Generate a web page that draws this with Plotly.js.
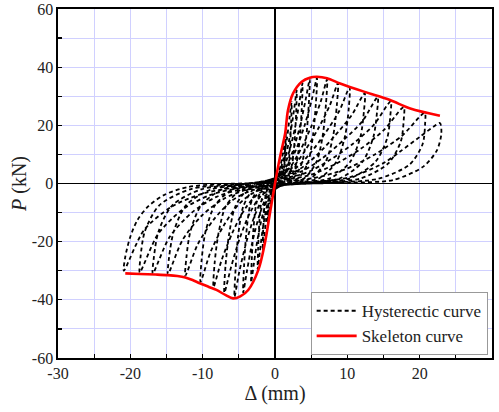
<!DOCTYPE html>
<html>
<head>
<meta charset="utf-8">
<script src="https://cdn.plot.ly/plotly-3.0.1.min.js"></script>
<style>html,body{margin:0;padding:0;background:#fff;}#chart{width:499px;height:412px;}</style>
</head>
<body>
<div id="chart"></div>
<script>
// Skeleton curve (mm, kN)
const skelX = [-20.7,-18.7,-16.5,-14.8,-13.5,-12.4,-11.4,-10.4,-9.2,-8.1,-6.8,-5.8,-4.8,-3.7,-2.3,-1.4,-0.7,0,0.7,1.4,1.8,2.5,3.7,4.8,5.8,7.2,9,12.4,15.9,18.7,22.8];
const skelY = [-30.9,-31.1,-31.3,-31.5,-31.8,-32.3,-33.2,-34.3,-35.5,-36.6,-38.4,-39.5,-38.8,-36.6,-29.7,-20.5,-10.2,0,9.2,17.2,25.3,31,35,36.4,36.7,36.2,34.4,31.5,28.7,25.8,23.3];

// Hysteretic loops, one per cycle
const loop1X = [0,0.4,0.75,1.1,1.35,1.5,1.45,1.35,1.15,0.8,0.45,-0.25,-0.5,-0.72,-0.88,-1.0,-0.97,-0.9,-0.78,-0.55,-0.3];
const loop1Y = [0,2.5,6,10.5,14.5,18,13.5,8,3.8,1.2,0.3,-1.8,-4.5,-7.8,-11.2,-14,-10.5,-6.2,-2.8,-0.9,-0.2];
const loop2X = [0.55,1.15,1.65,2.0,2.3,2.23,2.07,1.8,1.27,0.7,-0.43,-0.85,-1.22,-1.5,-1.7,-1.65,-1.53,-1.33,-0.94,-0.5];
const loop2Y = [3.4,8.4,15.4,22.4,28,21,12.6,5.6,1.7,0.3,-2.8,-6.9,-12.6,-18.4,-23,-17.2,-10.3,-4.6,-1.4,-0.25];
const loop3X = [0.75,1.5,2.15,2.65,3.0,2.92,2.7,2.35,1.65,0.9,-0.6,-1.2,-1.73,-2.1,-2.4,-2.33,-2.16,-1.87,-1.32,-0.72];
const loop3Y = [3.8,9.6,17.6,25.6,32,24,14.4,6.4,1.9,0.3,-3.5,-8.8,-16.2,-23.6,-29.5,-22.1,-13.3,-5.9,-1.8,-0.3];
const loop4X = [0.95,1.9,2.75,3.35,3.8,3.7,3.42,2.96,2.1,1.15,-0.83,-1.65,-2.38,-2.9,-3.3,-3.2,-2.97,-2.57,-1.82,-1.0];
const loop4Y = [4.1,10.4,19,27.6,34.5,25.9,15.5,6.9,2.1,0.35,-4.1,-10.2,-18.7,-27.2,-34,-25.5,-15.3,-6.8,-2,-0.35];
const loop5X = [1.2,2.4,3.45,4.22,4.8,4.66,4.32,3.74,2.64,1.44,-1.1,-2.2,-3.17,-3.87,-4.4,-4.27,-3.96,-3.43,-2.42,-1.32];
const loop5Y = [4.3,10.7,19.7,28.6,35.8,26.9,16.1,7.2,2.1,0.4,-4.5,-11.3,-20.6,-30,-37.5,-28.1,-16.9,-7.5,-2.2,-0.4];
const loop6X = [1.45,2.8,4.1,5.1,5.8,5.65,5.25,4.6,3.3,1.8,-1.4,-2.8,-4.0,-4.95,-5.6,-5.45,-5.1,-4.4,-3.1,-1.7];
const loop6Y = [4.5,11,20,29,36.3,27.5,16.5,7.5,2,0.4,-4.3,-11,-20.5,-30.5,-39,-29.5,-18,-8,-2.3,-0.4];
const loop7X = [1.8,3.5,5.0,6.3,7.2,7.05,6.6,5.75,4.1,2.2,-1.75,-3.4,-4.9,-6.1,-7.0,-6.85,-6.35,-5.5,-3.9,-2.1];
const loop7Y = [4.8,11.5,19.5,28,35.8,27.5,16.5,7.5,1.9,0.3,-3.8,-9.8,-19,-29,-37.6,-28.5,-17.5,-8,-2.3,-0.4];
const loop8X = [2.2,4.2,6.0,7.6,8.7,8.55,8.05,7.0,5.0,2.7,-2.1,-4.1,-5.9,-7.4,-8.5,-8.35,-7.8,-6.8,-4.8,-2.6];
const loop8Y = [5.0,11.5,19,27,34.5,27,16.5,7.5,1.9,0.3,-3.2,-8.5,-17,-26.5,-35.6,-27.5,-17,-7.8,-2.2,-0.4];
const loop9X = [2.6,4.9,7.0,8.9,10.3,10.2,9.7,8.5,6.2,3.3,-2.6,-5.0,-7.1,-8.9,-10.3,-10.15,-9.6,-8.3,-5.9,-3.2];
const loop9Y = [4.8,10.5,17.5,25,33,26,16.5,7.5,1.9,0.3,-2.7,-7.1,-14.5,-23.5,-33.8,-26.5,-16.5,-7.5,-2.1,-0.4];
const loop10X = [3.1,5.8,8.3,10.6,12.4,12.3,11.8,10.4,7.7,4.1,-3.1,-6.0,-8.5,-10.7,-12.4,-12.25,-11.7,-10.2,-7.3,-3.9];
const loop10Y = [4.5,9.8,16.5,23.5,31,25,16,7.5,1.9,0.3,-2.3,-6,-12.5,-21,-31.7,-25.5,-16.5,-7.5,-2,-0.4];
const loop11X = [3.5,6.6,9.5,12.1,14.2,14.1,13.6,12.1,9.0,4.8,-3.7,-7.1,-10.1,-12.8,-14.8,-14.65,-14.0,-12.3,-8.8,-4.7];
const loop11Y = [4.0,8.8,15,21.5,29.7,24.5,16,7.5,1.8,0.3,-2,-5.3,-11,-19.5,-31.2,-25.5,-16.5,-7.5,-2,-0.4];
const loop12X = [4.0,7.4,10.7,13.6,16.0,15.95,15.5,13.9,10.4,5.6,-4.2,-8.1,-11.5,-14.6,-16.9,-16.75,-16.1,-14.2,-10.2,-5.4];
const loop12Y = [3.4,7.8,13.5,20,28.2,23.5,15.5,7.5,1.8,0.3,-1.8,-4.6,-10,-18.5,-31,-25.5,-16.5,-7.5,-2,-0.4];
const loop13X = [4.4,8.2,11.9,15.1,17.8,17.8,17.4,15.7,11.8,6.4,-4.7,-9.0,-12.8,-16.2,-18.7,-18.6,-18.0,-16.0,-11.6,-6.2];
const loop13Y = [2.6,6.5,12,18.5,26.3,22,14.5,7,1.7,0.3,-1.5,-4,-9,-17.5,-30.6,-25.5,-16.5,-7.5,-1.9,-0.4];
const loop14X = [5.2,9.6,13.8,17.6,20.7,20.75,20.4,18.6,14.2,7.6,-5.2,-10.0,-14.3,-18.1,-20.9,-20.7,-20.0,-19.0,-17.5,-15.3,-12.0,-7.5];
const loop14Y = [1.8,4.8,10,16.5,24.3,20.5,13.5,6.5,1.6,0.3,-1.3,-3.5,-8,-16,-30,-25.2,-18.3,-12.5,-7.8,-3.9,-1.2,-0.2];
const loop15X = [5,10.4,15,17.3,20,21.9,22.8,23.0,22.4,20.5,16.3,10.4,4];
const loop15Y = [0.5,2.2,7,11,16,19.5,20.8,17.3,11.5,5.8,1.2,0.3,0];

// Axis ticks
const xTickVals = [-30,-25,-20,-15,-10,-5,0,5,10,15,20,25,30];
const xTickText = ['-30','','-20','','-10','','0','','10','','20','','30'];
const yTickVals = [-60,-50,-40,-30,-20,-10,0,10,20,30,40,50,60];
const yTickText = ['-60','','-40','','-20','','0','','20','','40','','60'];

const loopsX = [loop1X,loop2X,loop3X,loop4X,loop5X,loop6X,loop7X,loop8X,loop9X,loop10X,loop11X,loop12X,loop13X,loop14X,loop15X];
const loopsY = [loop1Y,loop2Y,loop3Y,loop4Y,loop5Y,loop6Y,loop7Y,loop8Y,loop9Y,loop10Y,loop11Y,loop12Y,loop13Y,loop14Y,loop15Y];
const hystX = [].concat(...loopsX);
const hystY = [].concat(...loopsY);

const serif = 'Liberation Serif, Times New Roman, serif';

const traces = [
  {x: hystX, y: hystY, type: 'scatter', mode: 'lines', name: 'Hysterectic curve',
   line: {color: '#000', width: 1.8, dash: '4px,3px', shape: 'spline', smoothing: 0.8}},
  {x: skelX, y: skelY, type: 'scatter', mode: 'lines', name: 'Skeleton curve',
   line: {color: '#ff0000', width: 2.6, shape: 'spline', smoothing: 0.9}}
];

const axisCommon = {
  showline: true, linecolor: '#000', linewidth: 1.6, mirror: true,
  ticks: 'inside', ticklen: 4, tickwidth: 1.3, tickcolor: '#000',
  showgrid: true, gridcolor: '#d0d0ff', gridwidth: 1,
  zeroline: true, zerolinecolor: '#000', zerolinewidth: 1.5,
  tickfont: {family: serif, size: 16, color: '#222'},
  tickmode: 'array'
};

const layout = {
  width: 499, height: 412,
  margin: {l: 58, r: 7, t: 9, b: 54},
  paper_bgcolor: '#fff', plot_bgcolor: '#fff',
  font: {family: serif, color: '#222'},
  showlegend: true,
  legend: {x: 0.99, xanchor: 'right', y: 0.008, yanchor: 'bottom',
    bgcolor: '#fff', bordercolor: '#999', borderwidth: 1, itemwidth: 40,
    font: {family: serif, size: 17, color: '#222'}, tracegroupgap: 0},
  xaxis: Object.assign({}, axisCommon, {
    range: [-30, 30], tickvals: xTickVals, ticktext: xTickText,
    title: {text: 'Δ (mm)', font: {family: serif, size: 20, color: '#222'}, standoff: 5}
  }),
  yaxis: Object.assign({}, axisCommon, {
    range: [-60, 60], tickvals: yTickVals, ticktext: yTickText,
    title: {text: '<i>P</i> (kN)', font: {family: serif, size: 20, color: '#222'}, standoff: 0}
  })
};

Plotly.newPlot('chart', traces, layout, {displayModeBar: false, staticPlot: true});
</script>
</body>
</html>
